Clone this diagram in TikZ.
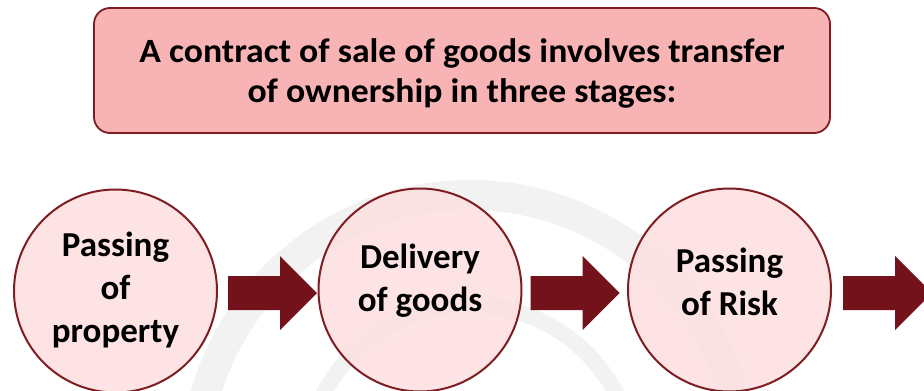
\documentclass[tikz,border=0pt]{standalone}
\usepackage{fontspec}
\setmainfont{Carlito}
\newfontfamily\headfont[FakeStretch=1.05]{Carlito}
\usetikzlibrary{calc}
\definecolor{boxfill}{HTML}{F8B4B4}
\definecolor{darkred}{HTML}{7E1D22}
\definecolor{circfill}{HTML}{FDE1E1}
\definecolor{arrowred}{HTML}{73121A}
\definecolor{markgray}{HTML}{F2F2F2}
\tikzset{
  titlebox/.style={draw=darkred, line width=1.8pt, fill=boxfill, rounded corners=16pt,
    minimum width=736pt, minimum height=125pt, align=center,
    font=\headfont\fontsize{34}{40}\selectfont\bfseries},
  stage/.style={circle, draw=darkred, line width=2pt, fill=circfill,
    fill opacity=0.9, minimum size=203pt, inner sep=0pt},
  stagetext/.style={align=center, inner sep=0pt,
    font=\fontsize{35}{43}\selectfont\bfseries},
  blockarrow/.pic={\fill[arrowred] (0,-17) -- (52,-17) -- (52,-37) -- (89,0)
    -- (52,37) -- (52,17) -- (0,17) -- cycle;},
  emblemring/.style={draw=markgray, line width=30pt}
}
\begin{document}
\begin{tikzpicture}[x=1pt,y=-1pt]
  \useasboundingbox (0,0) rectangle (924,391);
  \fill[white] (0,0) rectangle (924,391);
  \clip (0,0) rectangle (924,391);
  % faint background emblem
  \draw[emblemring] (470,470) circle[radius=275];
  \draw[emblemring, line width=16pt] (470,470) circle[radius=165];
  % heading
  \node[titlebox] (head) at (462,70.5) {};
  \node[align=center, inner sep=0pt, font=\headfont\fontsize{34}{40}\selectfont\bfseries]
    (headtext) at ($(head)+(0,2.5)$)
    {A contract of sale of goods involves transfer\\of ownership in three stages:};
  % the three stages
  \node[stage] (s1) at (115.5,291) {};
  \node[stage] (s2) at (420,290) {};
  \node[stage] (s3) at (729.5,290) {};
  \node[stagetext] (t1) at ($(s1)+(0,-1)$) {Passing\\of\\property};
  \node[stagetext] (t2) at ($(s2)+(0,-9)$) {Delivery\\of goods};
  \node[stagetext] (t3) at ($(s3)+(0,-8)$) {Passing\\of Risk};
  % block arrows between the stages
  \pic at ($(s1.east)+(10,2)$) {blockarrow};
  \pic at ($(s2.east)+(8,3)$) {blockarrow};
  \pic at ($(s3.east)+(11,3)$) {blockarrow};
\end{tikzpicture}
\end{document}
